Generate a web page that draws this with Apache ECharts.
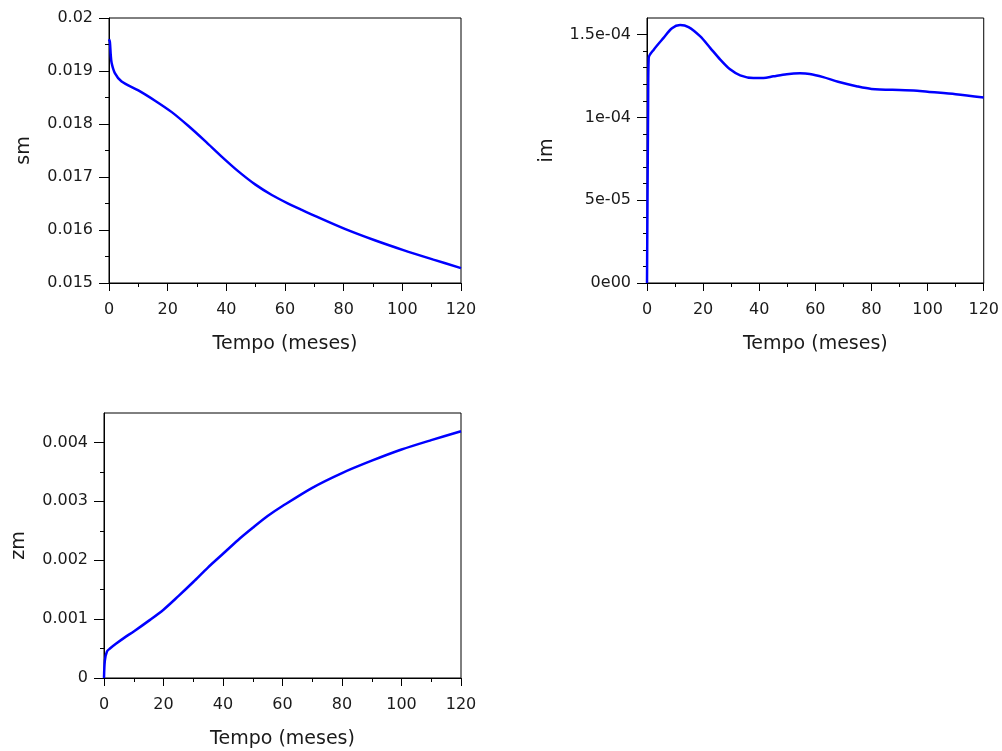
<!DOCTYPE html>
<html>
<head>
<meta charset="utf-8">
<script src="https://cdn.jsdelivr.net/npm/echarts@6/dist/echarts.min.js"></script>
<style>
  html, body { margin: 0; padding: 0; background: #ffffff; }
  #chart { width: 1002px; height: 751px; }
</style>
</head>
<body>
<div id="chart"></div>
<script>
// Time axis (months)
const xTicks = [0, 20, 40, 60, 80, 100, 120];

// sm(t)
const tSm = [0, 0.3, 0.6, 0.9, 2, 4.3, 10, 15.7, 21.4, 27, 32.7, 38.4, 44.1, 49.8, 55.5, 61.1, 65.7,
             70.6, 80.6, 90.6, 100.6, 110.6, 120];
const sm = [0.0196, 0.01955, 0.0193, 0.01915, 0.01896, 0.0188, 0.018635, 0.01844, 0.018224, 0.017966,
            0.017681, 0.017385, 0.017106, 0.016861, 0.016661, 0.016499, 0.016379, 0.016256, 0.016016,
            0.015806, 0.015616, 0.015441, 0.015281];
const smTicks = [0.015, 0.016, 0.017, 0.018, 0.019, 0.02];
const smMinor = [0.0155, 0.0165, 0.0175, 0.0185, 0.0195];

// im(t)
const tIm = [0, 0.4, 0.6, 2.4, 5.9, 8.9, 11.8, 14.8, 18.9, 22.5, 26.1, 29.6, 33.2, 37.9, 41.5, 45, 49.8,
             54.5, 58, 62.8, 68.1, 75, 80, 90, 95, 100, 110, 120];
const im = [0, 1.08e-4, 1.359e-4, 1.409e-4, 1.48e-4, 1.538e-4, 1.557e-4, 1.545e-4, 1.49e-4, 1.42e-4,
            1.349e-4, 1.29e-4, 1.254e-4, 1.238e-4, 1.238e-4, 1.248e-4, 1.261e-4, 1.266e-4, 1.262e-4,
            1.243e-4, 1.215e-4, 1.187e-4, 1.172e-4, 1.165e-4, 1.163e-4, 1.155e-4, 1.14e-4, 1.12e-4];
const imTicks = [0, 5e-5, 1e-4, 1.5e-4];
const imMinor = [1e-5, 2e-5, 3e-5, 4e-5, 6e-5, 7e-5, 8e-5, 9e-5, 1.1e-4, 1.2e-4, 1.3e-4, 1.4e-4];

// zm(t)
const tZm = [0, 0.3, 1, 2, 4, 7, 10, 15, 20, 25, 30, 35, 40, 45, 50, 55, 60, 70, 80, 90, 100, 110, 120];
const zm = [0, 0.0003, 0.00045, 0.0005, 0.00058, 0.00069, 0.00079, 0.00097, 0.00116, 0.00139, 0.00163,
            0.00188, 0.00211, 0.00234, 0.00255, 0.00275, 0.00292, 0.00323, 0.00348, 0.00369, 0.00388,
            0.00404, 0.00419];
const zmTicks = [0, 0.001, 0.002, 0.003, 0.004];
const zmMinor = [0.0005, 0.0015, 0.0025, 0.0035];

const FONT = 'DejaVu Sans';
const INK = '#1a1a1a';
const BLUE = '#0000ff';

function pairs(ts, vs) { return ts.map((t, i) => [t, vs[i]]); }

function sciLabel(v) {
  if (v === 0) return '0e00';
  return v.toExponential().replace('+', '').replace(/e(-?)(\d)$/, 'e$10$2');
}

const grids = [
  { left: 109, top: 18, width: 352, height: 265 },
  { left: 647, top: 18, width: 337, height: 265 },
  { left: 104, top: 413, width: 357, height: 265 }
].map(g => Object.assign({
  show: true, borderColor: '#000', borderWidth: 1, backgroundColor: 'transparent', containLabel: false
}, g));

function xAxisFor(gi) {
  return {
    type: 'value', gridIndex: gi, min: 0, max: 120, interval: 20,
    name: 'Tempo (meses)', nameLocation: 'middle', nameGap: 52,
    nameTextStyle: { fontFamily: FONT, fontSize: 19, color: INK },
    axisLine: { show: true, onZero: false, lineStyle: { color: '#000', width: 1 } },
    axisTick: { show: true, length: 8, lineStyle: { color: '#000' } },
    minorTick: { show: true, splitNumber: 2, length: 4, lineStyle: { color: '#000' } },
    axisLabel: { fontFamily: FONT, fontSize: 16, color: INK, margin: 19, customValues: xTicks },
    splitLine: { show: false }
  };
}

function yAxesFor(gi, name, nameGap, min, max, ticks, minor, fmt) {
  const major = {
    type: 'value', gridIndex: gi, position: 'left', min: min, max: max,
    name: name, nameLocation: 'middle', nameGap: nameGap,
    nameTextStyle: { fontFamily: FONT, fontSize: 19, color: INK },
    axisLine: { show: true, onZero: false, lineStyle: { color: '#000', width: 1 } },
    axisTick: { show: true, length: 10, customValues: ticks, lineStyle: { color: '#000' } },
    axisLabel: { fontFamily: FONT, fontSize: 16, color: INK, margin: 16, customValues: ticks,
                 formatter: fmt || (v => String(v)) },
    splitLine: { show: false }
  };
  const small = {
    type: 'value', gridIndex: gi, position: 'left', min: min, max: max,
    axisLine: { show: false },
    axisTick: { show: true, length: 4, customValues: minor, lineStyle: { color: '#000' } },
    axisLabel: { show: false },
    splitLine: { show: false }
  };
  return [major, small];
}

const yAxes = [].concat(
  yAxesFor(0, 'sm', 75, 0.015, 0.02, smTicks, smMinor),
  yAxesFor(1, 'im', 90, 0, 1.6e-4, imTicks, imMinor, sciLabel),
  yAxesFor(2, 'zm', 75, 0, 0.0045, zmTicks, zmMinor)
);

function lineSeries(xi, yi, data) {
  return {
    type: 'line', xAxisIndex: xi, yAxisIndex: yi, data: data,
    showSymbol: false, smooth: 0.3, clip: true, silent: true,
    lineStyle: { color: BLUE, width: 2.5 }
  };
}

const chart = echarts.init(document.getElementById('chart'), null, { renderer: 'canvas' });
chart.setOption({
  animation: false,
  backgroundColor: '#ffffff',
  grid: grids,
  xAxis: [xAxisFor(0), xAxisFor(1), xAxisFor(2)],
  yAxis: yAxes,
  series: [
    lineSeries(0, 0, pairs(tSm, sm)),
    lineSeries(1, 2, pairs(tIm, im)),
    lineSeries(2, 4, pairs(tZm, zm))
  ]
});
</script>
</body>
</html>
